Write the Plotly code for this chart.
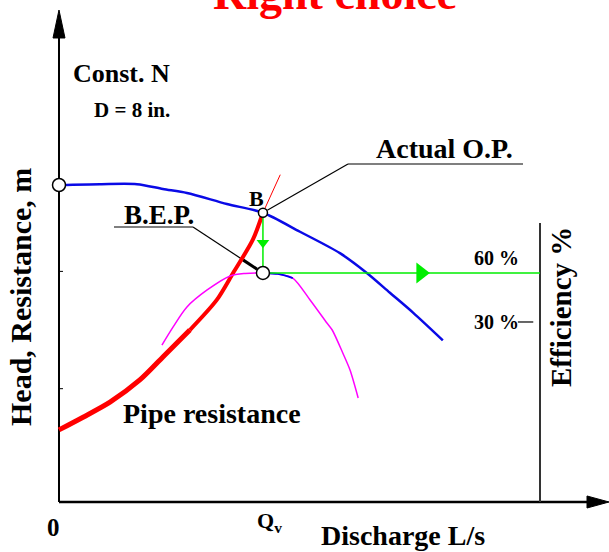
import math
import plotly.graph_objects as go

# ---- pump characteristic data (discharge Q, head H in m, efficiency in %) ----
Q_head = [0, 8.5, 16.2, 21.6, 26.6, 34.9, 42.4, 50.1, 58.4, 64.0, 68.8, 73.6, 79.8]
H_head = [40.0, 40.1, 40.1, 39.5, 39.0, 37.6, 36.5, 34.1, 31.4, 28.9, 26.4, 23.9, 20.4]

Q_pipe = [0, 5.0, 10.6, 16.8, 21.6, 27.2, 32.8, 36.2, 40.3, 42.4, 43.9, 46.0]
H_pipe = [9.1, 10.7, 12.6, 15.4, 18.3, 21.7, 25.5, 28.9, 33.1, 36.5, 38.5, 41.3]

Q_eff = [21.4, 23.7, 26.6, 30.8, 35.6, 38.7, 42.4, 45.5, 48.6, 52.2, 55.7, 56.8, 59.0, 60.5, 62.2]
eff = [15.9, 26.9, 39.2, 49.6, 58.2, 59.7, 60.0, 59.4, 56.9, 43.5, 29.4, 25.1, 11.0, 0.6, -16.5]

Q_v = 42.4          # operating discharge
H_B = 36.5          # head at the operating point B
eff_bep = 60        # efficiency at B.E.P.
Q_eff_axis = 100    # position of the efficiency scale
eff_ticks = [60, 30]
eff_tick_labels = ["60 %", "30 %"]
head_ticks = [14.3, 29.1]

W, Hpx = 609, 552
XR = [-12.266, 114.345]
YR = [-6.309, 63.344]
Y2R = [-110.82, 227.14]


def P(xp, yp):
    """pixel position -> paper coordinates"""
    return xp / W, 1 - yp / Hpx


def eff_to_head(e):
    return YR[0] + (e - Y2R[0]) * (YR[1] - YR[0]) / (Y2R[1] - Y2R[0])


def head_to_px(h):
    return Hpx - (h - YR[0]) / (YR[1] - YR[0]) * Hpx


def eff_to_px(e):
    return Hpx - (e - Y2R[0]) / (Y2R[1] - Y2R[0]) * Hpx


def q_to_px(q):
    return (q - XR[0]) / (XR[1] - XR[0]) * W


FONT = "Liberation Serif"
fig = go.Figure()

# efficiency curve (secondary scale)
fig.add_trace(go.Scatter(x=Q_eff, y=eff, yaxis="y2", mode="lines",
                         line=dict(color="#ff00ff", width=1.5, shape="spline", smoothing=0.8),
                         hoverinfo="skip"))
fig.add_trace(go.Scatter(x=Q_eff[6:9], y=eff[6:9], yaxis="y2", mode="lines",
                         line=dict(color="#0000ee", width=1.8, shape="spline", smoothing=0.8),
                         hoverinfo="skip"))

# pipe resistance curve: thick up to B, thin above
iB = Q_pipe.index(Q_v)
fig.add_trace(go.Scatter(x=Q_pipe[:6], y=H_pipe[:6], mode="lines",
                         line=dict(color="#ff0000", width=5, shape="spline", smoothing=0.8),
                         hoverinfo="skip"))
fig.add_trace(go.Scatter(x=Q_pipe[5:iB + 1], y=H_pipe[5:iB + 1], mode="lines",
                         line=dict(color="#ff0000", width=4, shape="spline", smoothing=0.8),
                         hoverinfo="skip"))
fig.add_trace(go.Scatter(x=Q_pipe[iB:], y=H_pipe[iB:], mode="lines",
                         line=dict(color="#ff0000", width=1), hoverinfo="skip"))

# head curve
fig.add_trace(go.Scatter(x=Q_head, y=H_head, mode="lines",
                         line=dict(color="#0a0ae6", width=2.5, shape="spline", smoothing=0.8),
                         hoverinfo="skip"))

# green construction lines: B down to BEP, then across to efficiency scale
H_bep = eff_to_head(eff_bep)
fig.add_trace(go.Scatter(x=[Q_v, Q_v], y=[H_B, H_bep], mode="lines",
                         line=dict(color="#00ee00", width=1.5), hoverinfo="skip"))
fig.add_trace(go.Scatter(x=[Q_v, Q_eff_axis], y=[eff_bep, eff_bep], yaxis="y2", mode="lines",
                         line=dict(color="#00ee00", width=1.5), hoverinfo="skip"))
fig.add_trace(go.Scatter(x=[Q_v], y=[(H_B + H_bep) / 2], mode="markers",
                         marker=dict(symbol="triangle-down", size=11, color="#00ee00"),
                         hoverinfo="skip"))
fig.add_trace(go.Scatter(x=[Q_v + 0.57 * (Q_eff_axis - Q_v)], y=[eff_bep], yaxis="y2",
                         mode="markers",
                         marker=dict(symbol="triangle-right", size=18, color="#00ee00"),
                         hoverinfo="skip"))

# characteristic points
open_marker = dict(symbol="circle", color="white", line=dict(color="black", width=1.5))
fig.add_trace(go.Scatter(x=[Q_head[0]], y=[H_head[0]], mode="markers",
                         marker=dict(size=13, **open_marker), hoverinfo="skip"))
fig.add_trace(go.Scatter(x=[Q_v], y=[H_B], mode="markers",
                         marker=dict(size=9, **open_marker), hoverinfo="skip"))
fig.add_trace(go.Scatter(x=[Q_v], y=[eff_bep], yaxis="y2", mode="markers",
                         marker=dict(size=13, **open_marker), hoverinfo="skip"))

shapes = []


def seg(xa, ya, xb, yb, color="black", width=1.2):
    pa, pb = P(xa, ya), P(xb, yb)
    shapes.append(dict(type="line", xref="paper", yref="paper", layer="below",
                       x0=pa[0], y0=pa[1], x1=pb[0], y1=pb[1],
                       line=dict(color=color, width=width)))


def path_px(points):
    s = ""
    for i, (xp, yp) in enumerate(points):
        px, py = P(xp, yp)
        s += ("M" if i == 0 else "L") + f" {px:.5f} {py:.5f} "
    return s + "Z"


x0p = q_to_px(0)
y0p = head_to_px(0)
xep = q_to_px(Q_eff_axis)
# axes
seg(x0p, y0p, x0p, 30, width=2)
seg(x0p, y0p, 592, y0p, width=2.5)
seg(xep, y0p, xep, 223, color="#333333", width=2)
shapes.append(dict(type="path", xref="paper", yref="paper",
                   path=path_px([(x0p, 10), (x0p - 6, 38), (x0p + 6, 38)]),
                   fillcolor="black", line=dict(color="black", width=1)))
shapes.append(dict(type="path", xref="paper", yref="paper",
                   path=path_px([(609, y0p), (587, y0p - 6), (587, y0p + 6)]),
                   fillcolor="black", line=dict(color="black", width=1)))
# small head ticks
for h in head_ticks:
    yp = head_to_px(h)
    seg(x0p, yp, x0p + 4, yp, width=1)
# 30 % tick on the efficiency scale
shapes.append(dict(type="line", xref="x", yref="y2", x0=95.4, x1=98.6, y0=30, y1=30,
                   line=dict(color="black", width=1.2)))
# label underlines
seg(114, 227, 193, 227)
seg(348, 164, 523, 164)


def leader(xa, ya, xb, yb, standoff, thick_end=False):
    dx, dy = xb - xa, yb - ya
    d = math.hypot(dx, dy)
    xe, ye = xb - dx / d * standoff, yb - dy / d * standoff
    seg(xa, ya, xe, ye, width=1.2)
    if thick_end:
        seg(xa + 0.78 * (xe - xa), ya + 0.78 * (ye - ya), xe, ye, width=3)


# leader lines to B.E.P. and to the actual operating point B
bx = q_to_px(Q_v)
leader(193, 227, bx, eff_to_px(eff_bep), 7, thick_end=True)
leader(348, 164, bx, head_to_px(H_B), 5)

ann = []


def label(text, xp, yp, size, color="black", angle=0, xanchor="center", yanchor="middle"):
    x, y = P(xp, yp)
    ann.append(dict(text=text, x=x, y=y, xref="paper", yref="paper", showarrow=False,
                    xanchor=xanchor, yanchor=yanchor, textangle=angle,
                    font=dict(family=FONT, size=size, color=color, weight="bold")))


label("Right choice", 335, 21, 46, color="#ff0000", yanchor="bottom")
label("Const. N", 121, 73, 26)
label("D = 8 in.", 132, 110, 21)
label("Actual O.P.", 444, 148, 28)
label("B.E.P.", 159, 215, 27)
label("B", 256, 198, 22)
label("Pipe resistance", 212, 413, 28)
label("Head, Resistance, m", 21, 297, 30, angle=-90)
label("Efficiency %", 561, 307, 29, angle=-90)
label("0", 53, 527, 25)
label("Q<sub>v</sub>", 269, 522, 22)
label("Discharge L/s", 403, 535, 28)
for v, t in zip(eff_ticks, eff_tick_labels):
    label(t, 496, eff_to_px(v) - (15 if v == eff_bep else 0), 20)

fig.update_layout(
    width=W, height=Hpx,
    margin=dict(l=0, r=0, t=0, b=0),
    paper_bgcolor="white", plot_bgcolor="white",
    showlegend=False,
    xaxis=dict(range=XR, visible=False, fixedrange=True),
    yaxis=dict(range=YR, visible=False, fixedrange=True),
    yaxis2=dict(range=Y2R, visible=False, overlaying="y", fixedrange=True),
    shapes=shapes, annotations=ann,
)

fig.write_html("out.html", config={"displayModeBar": False})
